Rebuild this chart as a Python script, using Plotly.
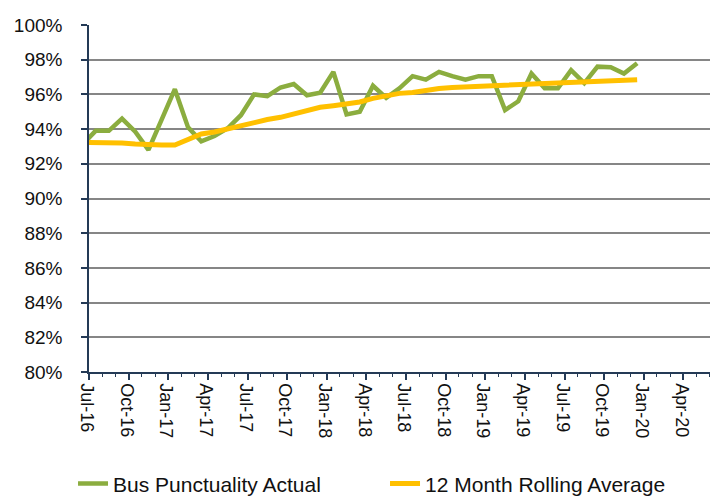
import plotly.graph_objects as go

# Months (index 0 = Jul-16); Jun-16 (index -1) lies left of the visible area
month_index = list(range(-1, 42))
bus_punctuality_actual = [
    93.1,
    93.9, 93.9, 94.6, 93.85, 92.8, 94.55, 96.3, 94.1, 93.3, 93.6,
    94.05, 94.8, 96.0, 95.9, 96.4, 96.6, 95.95, 96.1, 97.3, 94.85,
    95.0, 96.5, 95.8, 96.35, 97.05, 96.85, 97.3, 97.05, 96.85, 97.05,
    97.05, 95.1, 95.6, 97.2, 96.35, 96.35, 97.4, 96.65, 97.6, 97.57,
    97.2, 97.8,
]
rolling_average_12m = [
    93.23,
    93.23, 93.23, 93.2, 93.14, 93.08, 93.08, 93.08, 93.42, 93.72, 93.83,
    94.02, 94.17, 94.36, 94.55, 94.68, 94.88, 95.1, 95.26, 95.35, 95.43,
    95.56, 95.77, 95.92, 96.06, 96.11, 96.25, 96.34, 96.4, 96.43, 96.49,
    96.53, 96.57, 96.58, 96.62, 96.66, 96.68, 96.7, 96.7, 96.72, 96.75,
    96.79, 96.85,
]

tick_labels = ["Jul-16", "Oct-16", "Jan-17", "Apr-17", "Jul-17", "Oct-17",
               "Jan-18", "Apr-18", "Jul-18", "Oct-18", "Jan-19", "Apr-19",
               "Jul-19", "Oct-19", "Jan-20", "Apr-20"]
n_months = 48
y_ticks = list(range(80, 101, 2))

GREEN = "#8BAD3F"
GOLD = "#FFC000"
NAVY = "#243A56"
GRID = "#868686"
TEXT = "#111111"
FONT = "Liberation Sans, Arial, sans-serif"

fig = go.Figure()
fig.add_trace(go.Scatter(x=month_index, y=bus_punctuality_actual, mode="lines",
                         name="Bus Punctuality Actual", legend="legend",
                         line=dict(color=GREEN, width=4.5)))
fig.add_trace(go.Scatter(x=month_index, y=rolling_average_12m, mode="lines",
                         name="12 Month Rolling Average", legend="legend2",
                         line=dict(color=GOLD, width=5)))

major_bounds = [i * 3 - 0.5 for i in range(len(tick_labels))]
minor_bounds = [i - 0.5 for i in range(n_months + 1)]

legend_common = dict(orientation="h", xanchor="left", y=-0.322,
                     yanchor="middle", font=dict(size=21, color=TEXT),
                     bgcolor="rgba(0,0,0,0)")

fig.update_layout(
    width=718, height=499,
    margin=dict(l=81, r=3, t=17, b=127),
    plot_bgcolor="white", paper_bgcolor="white",
    font=dict(family=FONT, size=14, color=TEXT),
    showlegend=True,
    legend=dict(x=-0.0252, **legend_common),
    legend2=dict(x=0.4669, **legend_common),
    xaxis=dict(range=[-0.5, n_months - 0.5], showgrid=False, zeroline=False,
               showline=True, linecolor=NAVY, linewidth=1.5,
               tickmode="array", tickvals=major_bounds, ticktext=tick_labels,
               ticks="outside", ticklen=6, tickcolor=NAVY, tickwidth=1.5,
               tickangle=90, ticklabelshift=-2,
               tickfont=dict(size=18, color=TEXT),
               minor=dict(tickmode="array", tickvals=minor_bounds,
                          ticks="outside", ticklen=3, tickcolor=NAVY,
                          tickwidth=1.2, showgrid=False)),
    yaxis=dict(range=[80, 100], tickmode="array", tickvals=y_ticks,
               ticktext=[f"{v}%" for v in y_ticks],
               showgrid=True, gridcolor=GRID, gridwidth=1.5, zeroline=False,
               showline=True, linecolor=NAVY, linewidth=1.5,
               ticks="outside", ticklen=6, tickcolor=NAVY, tickwidth=1.5,
               ticklabelstandoff=15,
               tickfont=dict(size=19, color=TEXT)),
)

fig.write_html("out.html")
